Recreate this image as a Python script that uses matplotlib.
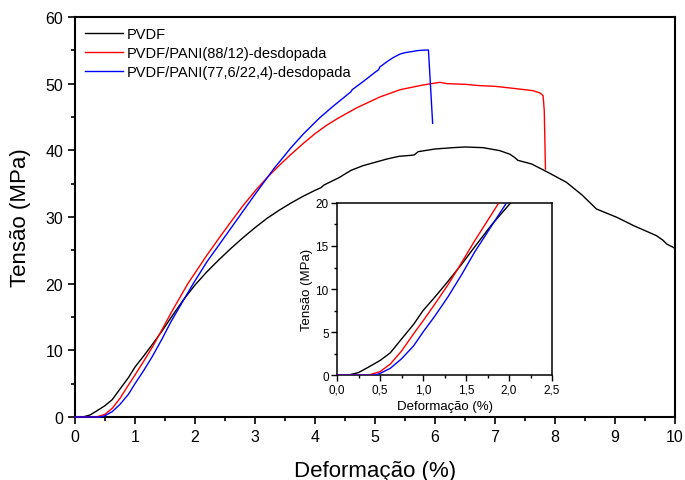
import matplotlib
matplotlib.use('Agg')
import matplotlib.pyplot as plt
from matplotlib.ticker import MultipleLocator, FuncFormatter

plt.rcParams['font.family'] = ['Liberation Sans', 'DejaVu Sans']

# Curve data: strain (%) and stress (MPa)
pvdf_x = [0, 0.13, 0.25, 0.36, 0.5, 0.62, 0.75, 0.89, 1.0, 1.14, 1.29, 1.45, 1.6, 1.8,
          2.0, 2.2, 2.4, 2.6, 2.8, 3.0, 3.2, 3.4, 3.6, 3.8, 4.0, 4.1, 4.15, 4.4, 4.6,
          4.8, 5.0, 5.2, 5.4, 5.6, 5.65, 5.72, 6.0, 6.3, 6.5, 6.8, 7.08, 7.25, 7.33,
          7.38, 7.61, 7.86, 8.19, 8.45, 8.69, 9.03, 9.31, 9.69, 9.8, 9.86, 10.0]
pvdf_y = [0, 0, 0.3, 0.9, 1.7, 2.6, 4.2, 5.9, 7.5, 9.1, 10.9, 12.9, 14.9, 17.5,
          19.8, 21.8, 23.6, 25.3, 26.9, 28.4, 29.8, 31.0, 32.1, 33.1, 34.0, 34.4, 34.8, 35.9, 37.0,
          37.7, 38.2, 38.7, 39.1, 39.25, 39.3, 39.8, 40.2, 40.4, 40.5, 40.4, 39.95, 39.4, 38.9,
          38.5, 37.95, 36.8, 35.2, 33.3, 31.2, 29.95, 28.7, 27.2, 26.5, 25.95, 25.3]

pani12_x = [0, 0.36, 0.5, 0.62, 0.75, 0.89, 1.0, 1.14, 1.29, 1.42, 1.6, 1.88, 2.0, 2.2,
            2.39, 2.6, 2.8, 3.0, 3.2, 3.4, 3.6, 3.8, 4.0, 4.2, 4.4, 4.7, 5.08, 5.42, 5.8,
            6.08, 6.2, 6.5, 6.75, 7.0, 7.3, 7.63, 7.75, 7.8, 7.82, 7.84]
pani12_y = [0, 0, 0.4, 1.3, 2.8, 4.8, 6.3, 8.3, 10.5, 12.6, 15.6, 20.0, 21.6, 24.3,
            26.7, 29.3, 31.7, 33.9, 35.9, 37.7, 39.4, 41.0, 42.5, 43.8, 44.9, 46.4, 48.0, 49.1, 49.8,
            50.2, 50.0, 49.9, 49.7, 49.6, 49.3, 48.95, 48.6, 48.2, 46.0, 37.2]

pani22_x = [0, 0.44, 0.5, 0.62, 0.75, 0.89, 1.0, 1.14, 1.29, 1.45, 1.6, 1.8, 1.97,
            2.2, 2.47, 2.7, 3.0, 3.31, 3.6, 3.8, 4.08, 4.3, 4.6, 4.62, 4.8, 5.0, 5.06,
            5.08, 5.2, 5.3, 5.42, 5.5, 5.64, 5.7, 5.8, 5.89, 5.96]
pani22_y = [0, 0, 0.2, 0.8, 1.9, 3.4, 5.0, 6.9, 9.1, 11.7, 14.3, 17.4, 20.0,
            23.3, 26.7, 29.6, 33.4, 37.2, 40.4, 42.4, 44.9, 46.6, 48.8, 49.1, 50.3, 51.7, 52.1,
            52.5, 53.3, 53.9, 54.45, 54.65, 54.85, 54.95, 55.02, 55.05, 44.05]

labels = ['PVDF', 'PVDF/PANI(88/12)-desdopada', 'PVDF/PANI(77,6/22,4)-desdopada']
colors = ['black', 'red', 'blue']
series = [(pvdf_x, pvdf_y), (pani12_x, pani12_y), (pani22_x, pani22_y)]

fig = plt.figure(figsize=(6.85, 4.81), dpi=100)

# Main plot
ax = fig.add_axes([0.1095, 0.131, 0.876, 0.8316])
for (x, y), c, lab in zip(series, colors, labels):
    ax.plot(x, y, color=c, lw=1.0, label=lab, clip_on=False, zorder=3)
ax.set_xlim(0, 10)
ax.set_ylim(0, 60)
ax.xaxis.set_major_locator(MultipleLocator(1))
ax.xaxis.set_minor_locator(MultipleLocator(0.5))
ax.yaxis.set_major_locator(MultipleLocator(10))
ax.yaxis.set_minor_locator(MultipleLocator(5))
ax.tick_params(which='both', direction='out', width=1.2, labelsize=11.5)
ax.tick_params(which='major', length=5)
ax.tick_params(which='minor', length=3)
for s in ax.spines.values():
    s.set_linewidth(1.5)
ax.set_xlabel('Deformação (%)', fontsize=16, labelpad=12)
ax.set_ylabel('Tensão (MPa)', fontsize=16, labelpad=10)
ax.legend(loc='upper left', bbox_to_anchor=(0.0, 1.0), frameon=False, fontsize=10.5,
          handlelength=2.6, handletextpad=0.25, labelspacing=0.35, borderaxespad=0.3)

# Inset with the initial part of the curves
ins = fig.add_axes([0.492, 0.218, 0.314, 0.358])
for (x, y), c in zip(series, colors):
    ins.plot(x, y, color=c, lw=1.0, zorder=3)
ins.set_xlim(0, 2.5)
ins.set_ylim(0, 20)
ins.xaxis.set_major_locator(MultipleLocator(0.5))
ins.xaxis.set_minor_locator(MultipleLocator(0.25))
ins.yaxis.set_major_locator(MultipleLocator(5))
ins.yaxis.set_minor_locator(MultipleLocator(2.5))
ins.xaxis.set_major_formatter(FuncFormatter(lambda v, p: f'{v:.1f}'.replace('.', ',')))
ins.tick_params(which='both', direction='out', width=1.0, labelsize=8.5, pad=2)
ins.tick_params(which='major', length=4)
ins.tick_params(which='minor', length=2)
for s in ins.spines.values():
    s.set_linewidth(1.1)
ins.set_xlabel('Deformação (%)', fontsize=9.5, labelpad=3)
ins.set_ylabel('Tensão (MPa)', fontsize=9.5, labelpad=2)

fig.savefig('out.png', dpi=100)
